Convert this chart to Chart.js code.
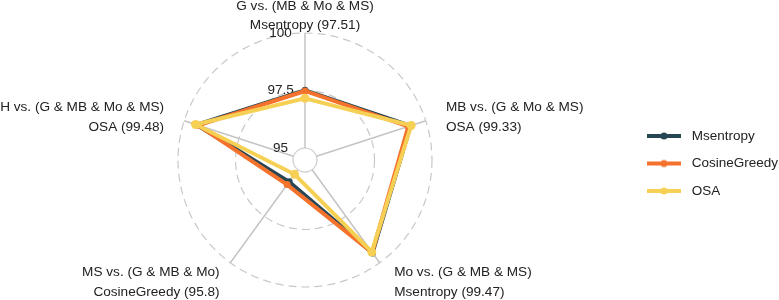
<!DOCTYPE html>
<html>
<head>
<meta charset="utf-8">
<script src="https://cdn.jsdelivr.net/npm/chart.js@4/dist/chart.umd.min.js"></script>
<style>
  html, body { margin: 0; padding: 0; background: #fff; }
  #wrap { width: 779px; height: 300px; position: relative; }
</style>
</head>
<body>
<div id="wrap"><canvas id="c"></canvas></div>
<script>
const categories = ['G vs. (MB & Mo & MS)', 'MB vs. (G & Mo & MS)', 'Mo vs. (G & MB & MS)', 'MS vs. (G & MB & Mo)', 'H vs. (G & MB & Mo & MS)'];
const bestLabels = ['Msentropy (97.51)', 'OSA (99.33)', 'Msentropy (99.47)', 'CosineGreedy (95.8)', 'OSA (99.48)'];
const seriesNames = ['Msentropy', 'CosineGreedy', 'OSA'];
const msentropy = [97.51, 99.30, 99.47, 95.65, 99.44];
const cosineGreedy = [97.48, 99.20, 99.45, 95.80, 99.36];
const osa = [97.16, 99.33, 99.42, 95.25, 99.48];
const tickValues = [95, 97.5, 100];
const scaleMin = 94.48;
const scaleMax = 100;

// layout (geometry of the radar, not data)
const CENTER_X = 305, CENTER_Y = 160, RADIUS = 127;
const labelPad = [-11, -63, -9.7, -9.7, -63];   // radial gap per axis label
const labelLead = [0, 19, 4, 0, 0];             // leading spaces (left-aligned labels)
const labelTrail = [0, 0, 0, 3, 19];            // trailing spaces (right-aligned labels)

const colors = ['#264653', '#F4722B', '#F6D055'];
const FONT = "'Liberation Sans', Arial, sans-serif";

function legendIcon(color) {
  const c = document.createElement('canvas');
  c.width = 34; c.height = 10;
  const g = c.getContext('2d');
  g.strokeStyle = color; g.lineWidth = 4; g.lineCap = 'butt';
  g.beginPath(); g.moveTo(0, 5); g.lineTo(34, 5); g.stroke();
  g.fillStyle = color;
  g.beginPath(); g.arc(17, 5, 3.5, 0, Math.PI * 2); g.fill();
  return c;
}

const innerHole = {
  id: 'innerHole',
  beforeDatasetsDraw(chart) {
    const s = chart.scales.r;
    const r = s.getDistanceFromCenterForValue(tickValues[0]);
    const ctx = chart.ctx;
    ctx.save();
    ctx.beginPath();
    ctx.arc(s.xCenter, s.yCenter, r, 0, Math.PI * 2);
    ctx.fillStyle = '#fff';
    ctx.fill();
    ctx.lineWidth = 1;
    ctx.strokeStyle = '#cfcfcf';
    ctx.stroke();
    ctx.restore();
  }
};

const allSeries = [msentropy, cosineGreedy, osa];
const datasets = allSeries.map((d, i) => ({
  label: seriesNames[i],
  data: d,
  borderColor: colors[i],
  backgroundColor: colors[i],
  pointBackgroundColor: colors[i],
  pointBorderColor: colors[i],
  pointBorderWidth: 0,
  pointRadius: i === 2 ? 4.5 : 3.5,
  borderWidth: 4,
  fill: false,
  clip: false,
  order: 3 - i
}));

new Chart(document.getElementById('c'), {
  type: 'radar',
  data: {
    labels: categories.map((c, i) => [c, bestLabels[i]]),
    datasets: datasets
  },
  options: {
    responsive: true,
    maintainAspectRatio: false,
    animation: false,
    layout: { padding: { left: 0, right: -9, top: 27, bottom: 0 } },
    elements: { line: { tension: 0 } },
    plugins: {
      tooltip: { enabled: false },
      legend: {
        position: 'right',
        align: 'center',
        labels: {
          usePointStyle: true,
          pointStyleWidth: 42,
          padding: 14,
          color: '#222',
          font: { family: FONT, size: 13.5 },
          generateLabels(chart) {
            return seriesNames.map((n, i) => ({
              text: n,
              datasetIndex: i,
              fillStyle: colors[i],
              strokeStyle: colors[i],
              lineWidth: 0,
              pointStyle: legendIcon(colors[i]),
              hidden: false,
              fontColor: '#222'
            }));
          }
        }
      }
    },
    scales: {
      r: {
        min: scaleMin,
        max: scaleMax,
        startAngle: 0,
        afterSetDimensions(scale) {
          scale.xCenter = CENTER_X;
          scale.yCenter = CENTER_Y;
          scale.drawingArea = RADIUS;
          scale.left = -2000; scale.right = 3000;
          scale.top = -2000; scale.bottom = 3000;
        },
        afterBuildTicks(scale) {
          scale.ticks = [{ value: scaleMin }].concat(tickValues.map(v => ({ value: v })));
        },
        ticks: {
          showLabelBackdrop: false,
          color: '#222',
          font: { family: FONT, size: 13.5 },
          callback: (v) => (tickValues.includes(v) ? String(v) + ' '.repeat(13) : '')
        },
        grid: { color: ctx => (ctx.index === 1 ? '#cfcfcf' : '#c8c8c8'), lineWidth: 1.2, circular: true },
        border: { dash: ctx => (ctx.index === 1 ? [] : [8, 5]) },
        angleLines: { color: '#c4c4c4', lineWidth: 1.5 },
        pointLabels: {
          color: '#222',
          padding: ctx => labelPad[ctx.index],
          callback: (label, i) => label.map(t => ' '.repeat(labelLead[i]) + t + ' '.repeat(labelTrail[i])),
          font: ctx => ({ family: FONT, size: 13.6, lineHeight: ctx.index === 0 ? 1.4 : 1.5 })
        }
      }
    }
  },
  plugins: [innerHole]
});
</script>
</body>
</html>
